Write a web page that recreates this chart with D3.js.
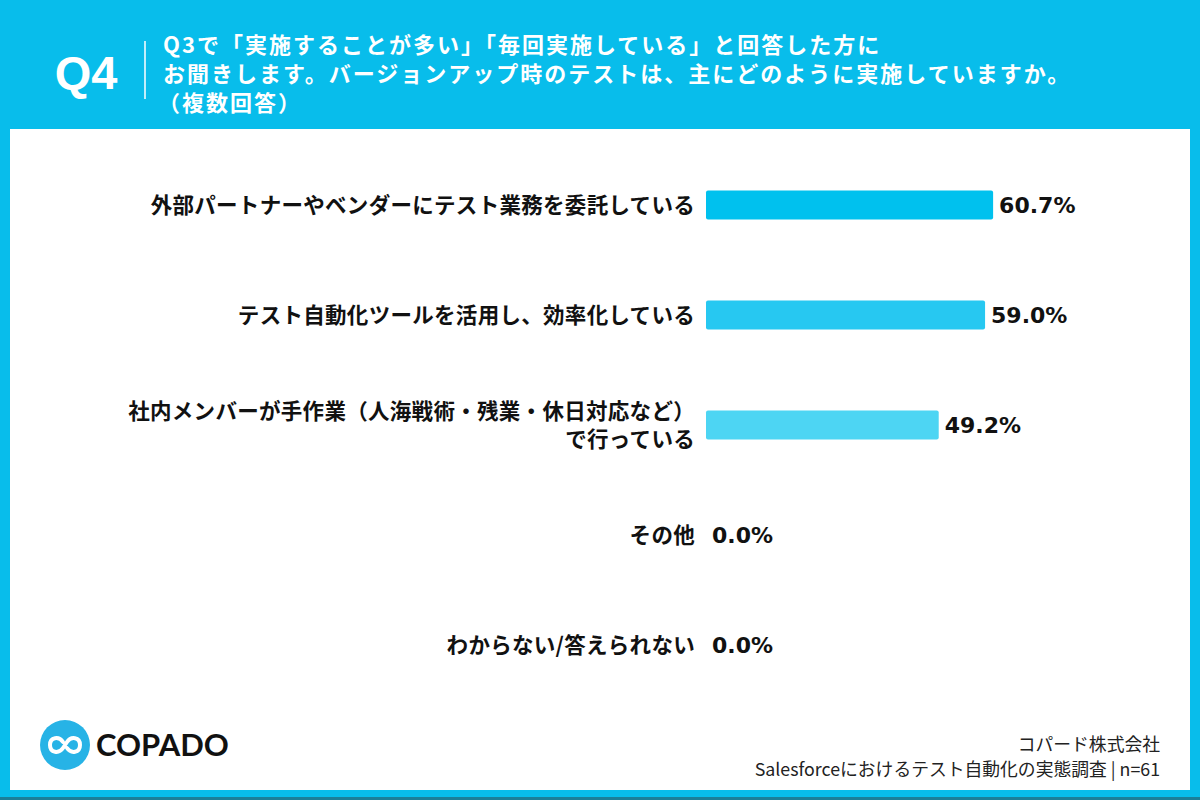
<!DOCTYPE html>
<html>
<head>
<meta charset="utf-8">
<script src="https://cdn.jsdelivr.net/npm/d3@7"></script>
<style>
  body { margin: 0; background: #08bdeb; }
  text { font-family: "Noto Sans CJK JP", "Noto Sans", sans-serif; }
</style>
</head>
<body>
<script>
let categories = [
    "外部パートナーやベンダーにテスト業務を委託している",
    "テスト自動化ツールを活用し、効率化している",
    "社内メンバーが手作業（人海戦術・残業・休日対応など）\nで行っている",
    "その他",
    "わからない/答えられない"
];
let values = [60.7, 59.0, 49.2, 0.0, 0.0];
let barColors = ["#00c1ee", "#27c8f1", "#4dd5f3", "#4dd5f3", "#4dd5f3"];

let titleLines = [
    "Q3で「実施することが多い」「毎回実施している」と回答した方に",
    "お聞きします。バージョンアップ時のテストは、主にどのように実施していますか。",
    "（複数回答）"
];
let sourceLines = ["コパード株式会社", "Salesforceにおけるテスト自動化の実態調査 | n=61"];

let width = 1200, height = 800;
let cyan = "#08bdeb";

let svg = d3.select("body").append("svg")
    .attr("width", width)
    .attr("height", height)
    .style("display", "block");

// background frame
svg.append("rect").attr("width", width).attr("height", height).attr("fill", cyan);
svg.append("rect").attr("x", 0).attr("y", 797).attr("width", width).attr("height", 3).attr("fill", "#1b7f99");
svg.append("rect")
    .attr("x", 10).attr("y", 129)
    .attr("width", 1180).attr("height", 661)
    .attr("fill", "#ffffff");

// header
svg.append("text")
    .attr("x", 86).attr("y", 89)
    .attr("text-anchor", "middle")
    .attr("fill", "#fff")
    .style("font-family", "'Liberation Sans', Arial, sans-serif")
    .style("font-weight", "bold")
    .style("font-size", "47px")
    .text("Q4");

svg.append("line")
    .attr("x1", 145).attr("x2", 145)
    .attr("y1", 41).attr("y2", 99)
    .attr("stroke", "#fff").attr("stroke-width", 1.5);

svg.selectAll("text.title")
    .data(titleLines)
    .join("text")
    .attr("class", "title")
    .attr("x", (d, i) => i === 2 ? 158 : 163)
    .attr("y", (d, i) => 53 + i * 29)
    .attr("fill", "#fff")
    .style("font-weight", "bold")
    .style("font-size", "22px")
    .style("letter-spacing", "2px")
    .text(d => d);

// chart
let x = d3.scaleLinear()
    .domain([0, 100])
    .range([706, 706 + 473]);

let y = d3.scaleBand()
    .domain(categories)
    .range([150, 700])
    .paddingInner(0.736)
    .paddingOuter(0.368);

let rows = svg.append("g").attr("class", "rows")
    .selectAll("g")
    .data(categories.map((c, i) => ({cat: c, value: values[i], color: barColors[i]})))
    .join("g");

rows.filter(d => d.value > 0)
    .append("rect")
    .attr("x", x(0))
    .attr("y", d => y(d.cat))
    .attr("width", d => x(d.value) - x(0))
    .attr("height", y.bandwidth())
    .attr("rx", 2)
    .attr("fill", d => d.color);

rows.append("text")
    .attr("x", d => x(d.value) + 6)
    .attr("y", d => y(d.cat) + y.bandwidth() / 2)
    .attr("dy", "0.36em")
    .attr("fill", "#111")
    .style("font-family", "'DejaVu Sans', sans-serif")
    .style("font-weight", "bold")
    .style("font-size", "22px")
    .text(d => d.value.toFixed(1) + "%");

rows.append("text")
    .attr("text-anchor", "end")
    .attr("fill", "#111")
    .style("font-weight", "bold")
    .style("font-size", "21.5px")
    .style("letter-spacing", "0.3px")
    .each(function (d) {
        let lines = d.cat.split("\n");
        let mid = y(d.cat) + y.bandwidth() / 2;
        let top = mid - (lines.length - 1) * 14;
        d3.select(this).selectAll("tspan")
            .data(lines)
            .join("tspan")
            .attr("x", 695)
            .attr("y", (l, i) => top + i * 28)
            .attr("dy", "0.36em")
            .text(l => l);
    });

// logo
let logo = svg.append("g").attr("transform", "translate(65,745)");
logo.append("circle").attr("r", 25).attr("fill", "#27b3e6");
logo.append("path")
    .attr("d", "M -2,-3 C -6,-9 -15,-8 -15,0 C -15,8 -6,9 -2,3 L 2,-3 C 6,-9 15,-8 15,0 C 15,8 6,9 2,3")
    .attr("fill", "none")
    .attr("stroke", "#fff")
    .attr("stroke-width", 4)
    .attr("stroke-linecap", "round");
svg.append("text")
    .attr("x", 96).attr("y", 756)
    .attr("fill", "#111")
    .style("font-family", "Lato, 'Liberation Sans', sans-serif")
    .style("font-weight", "bold")
    .style("font-size", "31px")
    .text("COPADO");

// source
svg.selectAll("text.source")
    .data(sourceLines)
    .join("text")
    .attr("class", "source")
    .attr("x", 1160)
    .attr("y", (d, i) => 751 + i * 25)
    .attr("text-anchor", "end")
    .attr("fill", "#222")
    .style("font-size", "17.8px")
    .text(d => d);
</script>
</body>
</html>
